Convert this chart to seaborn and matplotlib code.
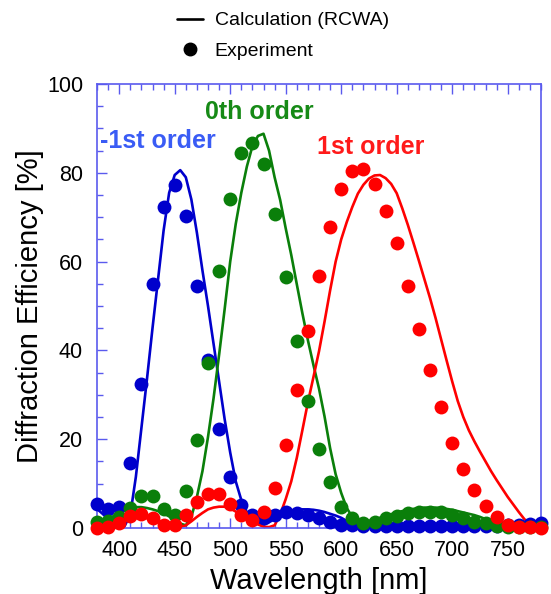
import matplotlib
matplotlib.use("Agg")
import numpy as np
import pandas as pd
import matplotlib.pyplot as plt
import seaborn as sns
from matplotlib.lines import Line2D
from matplotlib.ticker import MultipleLocator

# ---- calculation (RCWA), every 5 nm ----
wl_calc = list(range(380, 785, 5))
calc_m1 = [4.3, 3.2, 2.0, 1.0, 0.3, 0.5, 3.0, 11.5, 22.5, 33.5,
           45.0, 56.0, 67.0, 75.5, 79.5, 80.6, 79.0, 74.0, 66.5, 58.0,
           50.0, 41.5, 33.0, 24.5, 17.0, 10.5, 6.3, 3.5, 1.8, 1.0,
           0.8, 1.3, 2.0, 2.8, 3.3, 3.8, 4.0, 4.2, 4.2, 4.1,
           3.9, 3.6, 3.2, 2.8, 2.3, 1.6, 1.0, 0.6, 0.4, 0.3,
           0.3, 0.3, 0.3, 0.3, 0.3, 0.3, 0.3, 0.3, 0.3, 0.3,
           0.3, 0.3, 0.3, 0.3, 0.3, 0.3, 0.3, 0.3, 0.3, 0.3,
           0.3, 0.3, 0.3, 0.3, 0.3, 0.3, 0.3, 0.4, 0.4, 0.5, 0.5]
calc_0 = [0.5, 1.0, 1.8, 2.7, 3.6, 4.2, 4.5, 4.7, 4.7, 4.5,
          4.2, 3.8, 3.3, 2.6, 1.9, 1.0, 0.6, 2.5, 7.0, 12.8,
          20.5, 29.2, 39.0, 49.3, 60.0, 68.5, 75.5, 81.4, 86.0, 88.3,
          88.8, 85.0, 79.0, 73.9, 67.5, 61.5, 54.9, 48.4, 42.3, 36.7,
          31.4, 25.1, 18.0, 12.1, 7.9, 4.5, 2.5, 1.8, 1.5, 1.6,
          1.9, 2.3, 2.7, 3.1, 3.5, 3.8, 4.1, 4.3, 4.5, 4.6,
          4.6, 4.6, 4.5, 4.3, 4.1, 3.8, 3.5, 3.2, 2.9, 2.5,
          2.0, 1.5, 1.0, 0.5, 0.3, 0.2, 0.2, 0.2, 0.2, 0.2, 0.2]
calc_p1 = [0.3, 0.5, 0.8, 1.1, 1.4, 1.7, 2.0, 2.2, 2.3, 2.2,
           2.0, 1.6, 1.2, 0.8, 0.4, 0.2, 0.6, 1.5, 2.5, 3.4,
           4.2, 4.6, 4.8, 4.8, 4.4, 3.7, 2.9, 2.2, 1.4, 0.8,
           0.3, 0.2, 0.6, 3.0, 6.5, 10.5, 15.8, 22.0, 28.3, 34.0,
           39.8, 46.5, 53.5, 60.0, 65.0, 68.9, 72.3, 75.3, 77.3, 78.7,
           79.4, 79.5, 78.8, 77.5, 75.4, 72.0, 68.3, 64.3, 60.2, 56.0,
           51.8, 47.3, 42.5, 37.7, 33.0, 28.6, 25.0, 22.0, 19.5, 17.2,
           15.0, 12.8, 10.8, 8.9, 7.0, 5.3, 3.6, 2.0, 0.9, 0.3, 0.1]

# ---- experiment, every 10 nm ----
wl_exp = list(range(380, 790, 10))
exp_m1 = [5.5, 4.2, 4.8, 14.6, 32.5, 55.0, 72.2, 77.3, 70.3, 54.5,
          37.8, 22.4, 11.4, 5.2, 2.9, 2.2, 2.9, 3.7, 3.3, 2.9,
          2.2, 1.4, 0.7, 0.6, 0.5, 0.5, 0.5, 0.5, 0.5, 0.5,
          0.5, 0.5, 0.5, 0.5, 0.5, 0.5, 0.5, 0.6, 0.7, 0.8, 1.1]
exp_0 = [1.4, 1.5, 2.5, 4.5, 7.2, 7.2, 4.3, 2.9, 8.3, 19.8,
         37.2, 57.8, 74.0, 84.4, 86.8, 82.0, 70.8, 56.6, 42.2, 28.5,
         17.9, 10.4, 4.7, 2.2, 1.1, 1.4, 2.2, 2.7, 3.3, 3.7,
         3.7, 3.7, 2.9, 2.2, 1.4, 1.1, 0.5, 0.3, 0.3, 0.3, 0.3]
exp_p1 = [0.0, 0.3, 1.1, 2.7, 3.2, 2.2, 0.7, 0.7, 2.9, 5.9,
          7.7, 7.7, 5.4, 2.9, 1.8, 3.7, 8.9, 18.7, 31.1, 44.4,
          56.8, 67.9, 76.3, 80.5, 80.9, 77.4, 71.5, 64.1, 54.5, 44.8,
          35.6, 27.2, 19.1, 13.3, 8.6, 5.0, 2.5, 0.7, 0.3, 0.3, 0.1]

order_names = ["-1st order", "0th order", "1st order"]
line_colors = ["#0000cc", "#0a7f0a", "#ff0000"]
text_colors = ["#3a5cf5", "#168a16", "#ff1a1a"]

spine_col = "#5a5aee"

sns.set_style("white")
plt.rcParams["font.family"] = ["Liberation Sans", "DejaVu Sans"]
plt.rcParams["text.color"] = "black"
plt.rcParams["axes.labelcolor"] = "black"
plt.rcParams["xtick.color"] = "black"
plt.rcParams["ytick.color"] = "black"

fig = plt.figure(figsize=(5.51, 5.94), dpi=100)
ax = fig.add_axes([97 / 551, 1 - 528 / 594, 444 / 551, 444 / 594])

calc = [calc_m1, calc_0, calc_p1]
exp = [exp_m1, exp_0, exp_p1]

for yv, c in zip(calc, line_colors):
    sns.lineplot(x=wl_calc, y=yv, color=c, linewidth=1.9, ax=ax, zorder=2)
for yv, c in zip(exp, line_colors):
    sns.scatterplot(x=wl_exp, y=yv, color=c, s=100, linewidth=0, ax=ax,
                    zorder=3, clip_on=False)

ax.set_xlim(380, 780)
ax.set_ylim(0, 100)
ax.xaxis.set_major_locator(MultipleLocator(50))
ax.xaxis.set_minor_locator(MultipleLocator(10))
ax.yaxis.set_major_locator(MultipleLocator(20))
ax.yaxis.set_minor_locator(MultipleLocator(5))
ax.set_xticks(range(400, 751, 50))
ax.tick_params(which="both", direction="in", top=True, right=False,
               bottom=True, left=True, color=spine_col, width=1,
               labelcolor="black")
ax.tick_params(which="major", length=7, labelsize=15.5)
ax.tick_params(which="minor", length=4)
ax.tick_params(axis="x", pad=9)
ax.tick_params(axis="y", pad=10)
for s in ax.spines.values():
    s.set_color(spine_col)
    s.set_linewidth(1.2)

ax.set_xlabel("Wavelength [nm]", fontsize=21, labelpad=4, color="black")
ax.set_ylabel("Diffraction Efficiency [%]", fontsize=21, labelpad=2,
              color="black")

# order labels
ax.text(382.5, 87.2, order_names[0], color=text_colors[0], fontsize=18,
        fontweight="bold", ha="left", va="center")
ax.text(477.5, 93.7, order_names[1], color=text_colors[1], fontsize=18,
        fontweight="bold", ha="left", va="center")
ax.text(578, 85.8, order_names[2], color=text_colors[2], fontsize=18,
        fontweight="bold", ha="left", va="center")

handles = [Line2D([], [], color="black", linewidth=1.9),
           Line2D([], [], color="black", linestyle="none", marker="o",
                  markersize=9)]
fig.legend(handles, ["Calculation (RCWA)", "Experiment"], loc="upper left",
           bbox_to_anchor=(167 / 551, 1 - 2 / 594), frameon=False,
           fontsize=14, borderpad=0, handlelength=1.35, handletextpad=0.6,
           labelspacing=0.65, labelcolor="black")

fig.savefig("out.png", dpi=100)
